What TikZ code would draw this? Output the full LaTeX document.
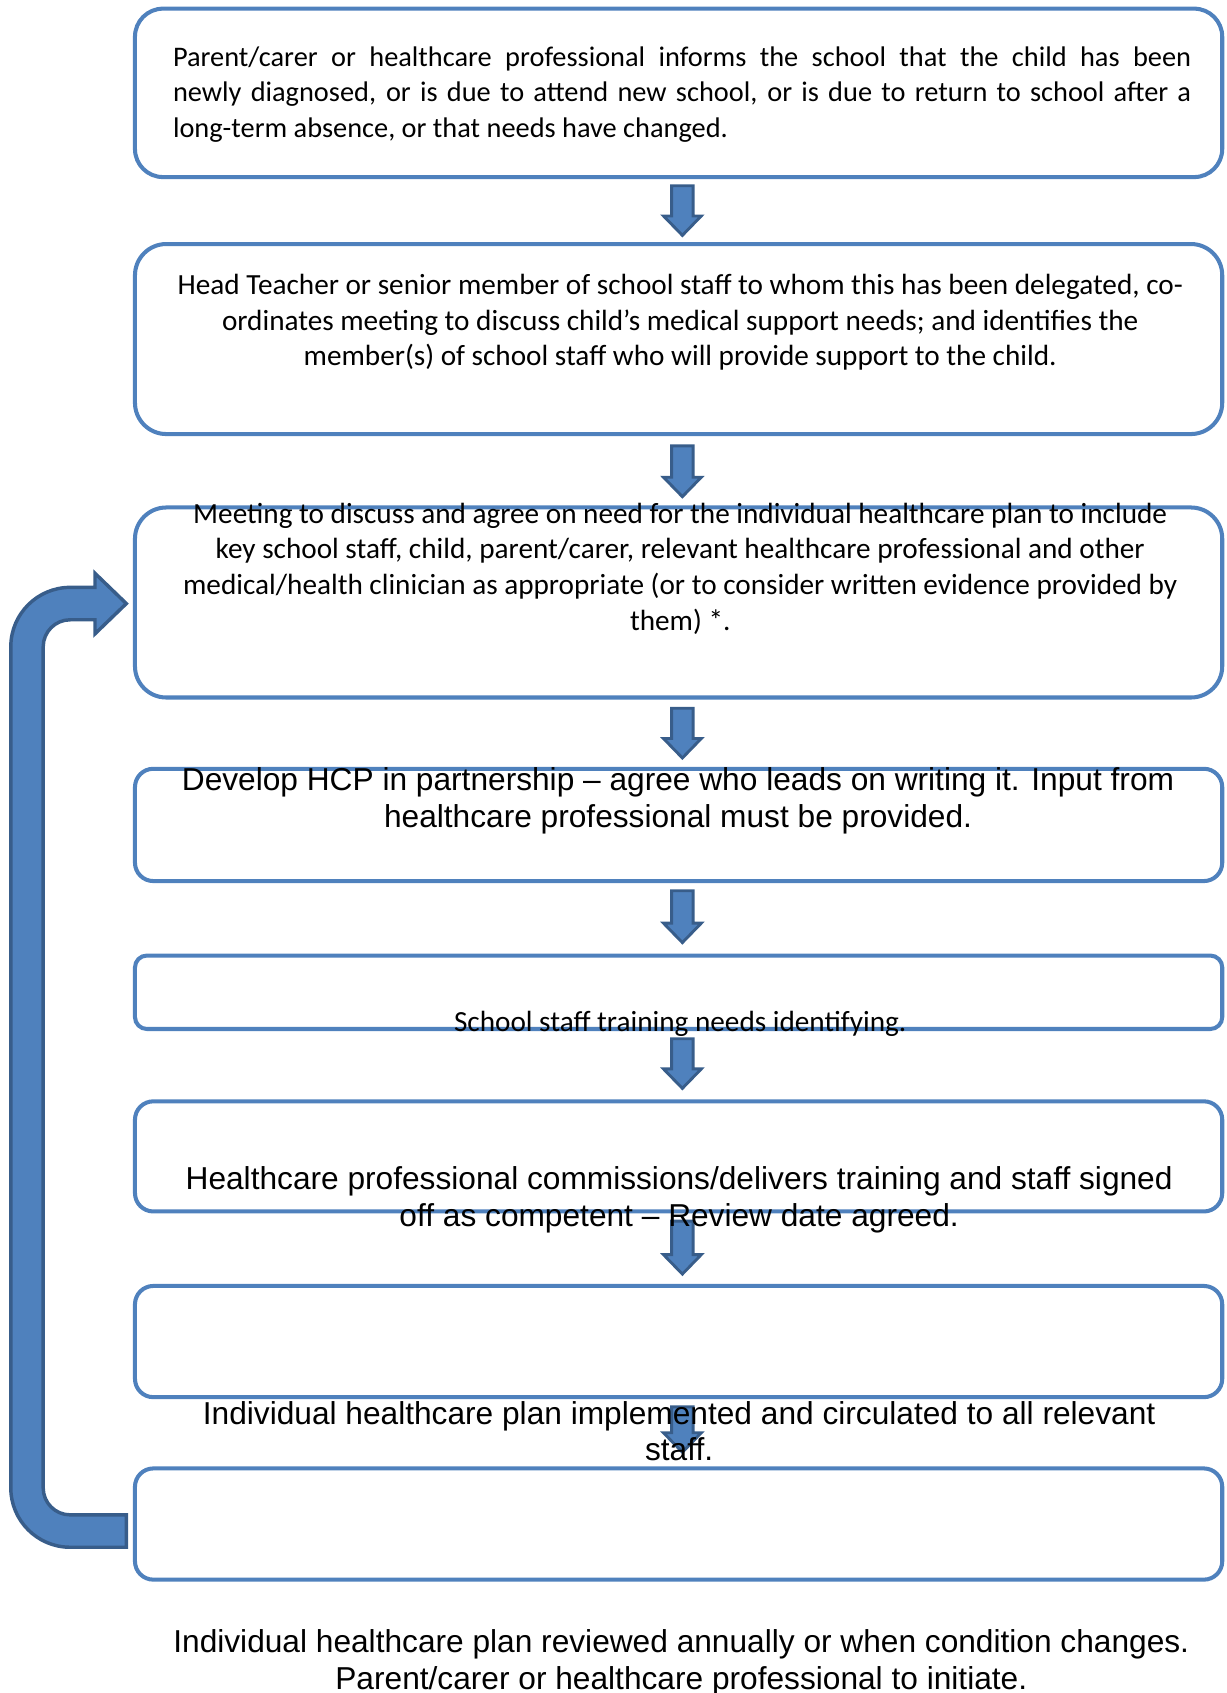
\documentclass[tikz,border=0pt]{standalone}
\usepackage{fontspec}
\setmainfont{Carlito}
\newfontfamily\arialf{Liberation Sans}
\definecolor{boxblue}{RGB}{79,129,189}
\definecolor{arrowedge}{RGB}{56,93,138}
\newcommand\blockdn[2]{%
  \draw[darr] (622,#1) -- (642,#1) -- (642,{#2-18}) -- (649.5,{#2-18}) -- (632,#2)
    -- (614.5,{#2-18}) -- (622,{#2-18}) -- cycle;}
\begin{document}
\begin{tikzpicture}[x=0.75pt, y=-0.75pt,
  box/.style={draw=boxblue, line width=2.8pt, fill=white, minimum width=755.25pt, inner sep=0pt},
  darr/.style={fill=boxblue, draw=arrowedge, line width=2pt, line join=miter},
  bigarr/.style={fill=boxblue, draw=arrowedge, line width=2.4pt, line join=miter},
  txtc/.style={inner sep=0pt, align=center, font=\fontsize{20.3}{24.75}\selectfont},
  txta/.style={inner sep=0pt, align=center, font=\arialf\fontsize{22}{25.5}\selectfont}]
\useasboundingbox (0,0) rectangle (1136,1568);
% boxes
\node[box, minimum height=117pt, rounded corners=19.5pt] (b1) at (628.5,86) {};
\node[box, minimum height=132pt, rounded corners=21.75pt] (b2) at (628.5,314) {};
\node[box, minimum height=132pt, rounded corners=21.75pt] (b3) at (628.5,558) {};
\node[box, minimum height=78pt, rounded corners=12.75pt] (b4) at (628.5,764) {};
\node[box, minimum height=51pt, rounded corners=8.25pt] (b5) at (628.5,919) {};
\node[box, minimum height=76.5pt, rounded corners=12.75pt] (b6) at (628.5,1071) {};
\node[box, minimum height=77.25pt, rounded corners=12.75pt] (b7) at (628.5,1242.5) {};
\node[box, minimum height=77.25pt, rounded corners=12.75pt] (b8) at (628.5,1411.5) {};
% down arrows
\blockdn{172}{218}
\blockdn{413}{460}
\blockdn{656}{702}
\blockdn{825}{873}
\blockdn{962}{1008}
\blockdn{1131}{1180}
\blockdn{1303}{1345}
% big feedback arrow
\draw[bigarr] (117,1403) -- (117,1433) -- (65,1433)
  .. controls (34.64,1433) and (10,1408.36) .. (10,1378) -- (10,599)
  .. controls (10,568.64) and (34.64,544) .. (65,544) -- (88,544) -- (88,531)
  -- (117,559) -- (88,587) -- (88,574) -- (65,574)
  .. controls (51.2,574) and (40,585.2) .. (40,599) -- (40,1378)
  .. controls (40,1391.8) and (51.2,1403) .. (65,1403) -- cycle;
% texts
\node[inner sep=0pt, anchor=west, align=left, font=\fontsize{19.7}{24.75}\selectfont] (t1) at (160,87.5)
 {\makebox[707.25pt][s]{Parent/carer or healthcare professional informs the school that the child has been}\\
  \makebox[707.25pt][s]{newly diagnosed, or is due to attend new school, or is due to return to school after a}\\
  long-term absence, or that needs have changed.};
\node[txtc] (t2) at (630,298.5) {Head Teacher or senior member of school staff to whom this has been delegated, co-\\
 ordinates meeting to discuss child’s medical support needs; and identifies the\\
 member(s) of school staff who will provide support to the child.};
\node[txtc] (t3) at (630,526.5) {Meeting to discuss and agree on need for the individual healthcare plan to include\\
 key school staff, child, parent/carer, relevant healthcare professional and other\\
 medical/health clinician as appropriate (or to consider written evidence provided by\\
 them) *.};
\node[txta] (t4) at (628,741.5) {Develop HCP in partnership – agree who leads on writing it. Input from\\
 healthcare professional must be provided.};
\node[inner sep=0pt, font=\fontsize{20.3}{24.75}\selectfont] (t5) at (630,948.5) {School staff training needs identifying.};
\node[txta] (t6) at (629,1111.5) {Healthcare professional commissions/delivers training and staff signed\\
 off as competent – Review date agreed.};
\node[txta] (t7) at (629,1325.5) {Individual healthcare plan implemented and circulated to all relevant\\
 staff.};
\node[txta] (t8) at (631,1540) {Individual healthcare plan reviewed annually or when condition changes.\\
 Parent/carer or healthcare professional to initiate.};
\end{tikzpicture}
\end{document}
